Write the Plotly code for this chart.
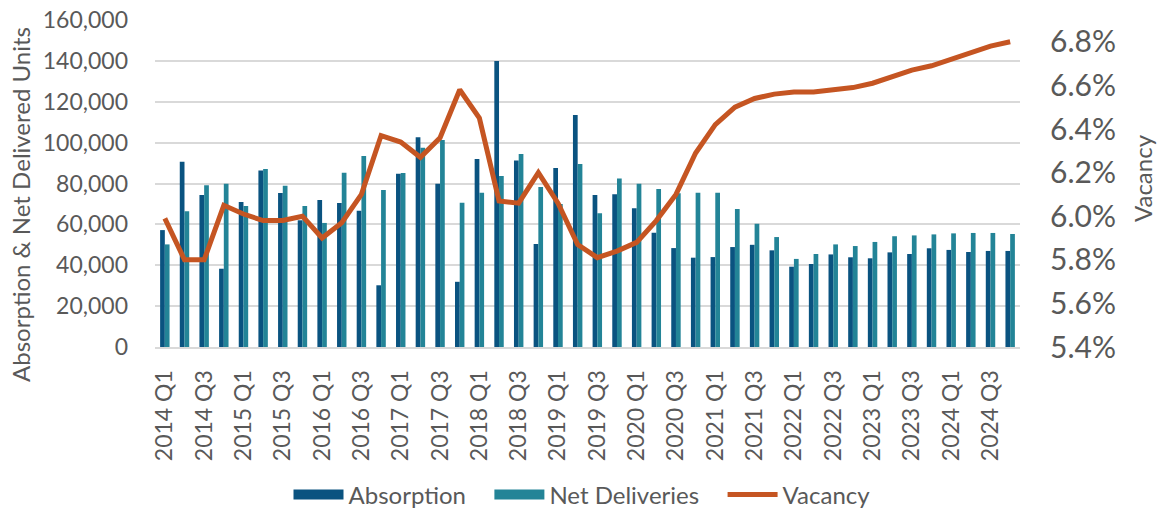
import plotly.graph_objects as go

quarters = [f"{y} Q{q}" for y in range(2014, 2025) for q in range(1, 5)]

absorption = [57200, 90700, 74400, 38300, 70900, 86400, 75300, 62000,
              71900, 70400, 66700, 30200, 84800, 102600, 79900, 31900,
              92000, 139900, 91300, 50400, 87600, 113500, 74400, 74700,
              67900, 55900, 48400, 43700, 44000, 48900, 50000, 47300,
              39300, 40600, 45300, 43900, 43400, 46300, 45500, 48300,
              47500, 46500, 47000, 47000]

net_deliveries = [50200, 66400, 79100, 79900, 69000, 87100, 78900, 69000,
                  60700, 85300, 93400, 76800, 85100, 97500, 101300, 70600,
                  75500, 83700, 94400, 78300, 70000, 89500, 65400, 82500,
                  79900, 77300, 75200, 75500, 75500, 67500, 60300, 53800,
                  43100, 45500, 50200, 49400, 51400, 54200, 54600, 55100,
                  55600, 55800, 55800, 55300]

vacancy = [5.99, 5.80, 5.80, 6.05, 6.01, 5.98, 5.98, 6.00,
           5.90, 5.97, 6.10, 6.37, 6.34, 6.27, 6.36, 6.58,
           6.45, 6.07, 6.06, 6.20, 6.06, 5.87, 5.81, 5.84,
           5.88, 5.98, 6.10, 6.29, 6.42, 6.50, 6.54, 6.56,
           6.57, 6.57, 6.58, 6.59, 6.61, 6.64, 6.67, 6.69,
           6.72, 6.75, 6.78, 6.80]

left_ticks = list(range(0, 160001, 20000))
right_ticks = [5.4, 5.6, 5.8, 6.0, 6.2, 6.4, 6.6, 6.8]

FONT = "Lato, 'Source Sans Pro', 'Noto Sans', sans-serif"
GRAY = "#595959"
C_ABS = "#0A5380"
C_NET = "#238497"
C_VAC = "#C55522"
PAD = "\u00a0\u00a0\u00a0"

fig = go.Figure()
fig.add_trace(go.Bar(x=quarters, y=absorption, name="Absorption", showlegend=False,
                     marker=dict(color=C_ABS, line=dict(width=0))))
fig.add_trace(go.Bar(x=quarters, y=net_deliveries, name="Net Deliveries", showlegend=False,
                     marker=dict(color=C_NET, line=dict(width=0))))
fig.add_trace(go.Scatter(x=quarters, y=vacancy, name="Vacancy", yaxis="y2", showlegend=False,
                         mode="lines", line=dict(color=C_VAC, width=5)))

# legend entries (wide rectangles for the bar series, as in the original)
fig.add_trace(go.Scatter(x=[None], y=[None], name="Absorption" + PAD, mode="lines",
                         line=dict(color=C_ABS, width=16)))
fig.add_trace(go.Scatter(x=[None], y=[None], name="Net Deliveries" + PAD, mode="lines",
                         line=dict(color=C_NET, width=16)))
fig.add_trace(go.Scatter(x=[None], y=[None], name="Vacancy", mode="lines",
                         line=dict(color=C_VAC, width=5)))

fig.update_layout(
    width=1164, height=509,
    margin=dict(l=155, r=144, t=20, b=162),
    paper_bgcolor="white", plot_bgcolor="white",
    font=dict(family=FONT, color=GRAY, size=22),
    barmode="group", bargap=0.52, bargroupgap=0,
    showlegend=True,
    legend=dict(orientation="h", x=0.5, xanchor="center", xref="container",
                y=14 / 509, yanchor="middle", yref="container",
                font=dict(size=24, color=GRAY), itemwidth=50, traceorder="normal",
                tracegroupgap=0),
    xaxis=dict(
        type="category", automargin=False,
        tickvals=quarters[::2], ticktext=quarters[::2],
        tickangle=-90, tickfont=dict(size=23, color=GRAY),
        showgrid=False, showline=True, linecolor="#D9D9D9", linewidth=2,
        ticks="", ticklabelstandoff=12,
    ),
    yaxis=dict(
        range=[0, 160000], tickvals=left_ticks, tickformat=",", automargin=False,
        showgrid=True, gridcolor="#D9D9D9", gridwidth=1.5,
        zeroline=False, showline=False, ticks="",
        tickfont=dict(size=23, color=GRAY), ticklabelstandoff=26,
    ),
    yaxis2=dict(
        range=[5.4, 6.9], tickvals=right_ticks, ticktext=[f"{v:.1f}%" for v in right_ticks],
        overlaying="y", side="right", showgrid=False, zeroline=False, showline=False,
        automargin=False,
        ticks="", tickfont=dict(size=30, color=GRAY), ticklabelstandoff=29,
    ),
    annotations=[
        dict(text="Absorption & Net Delivered Units", xref="paper", yref="paper",
             x=(20 - 155) / 865, y=(347 - 205) / 327, xanchor="center", yanchor="middle",
             textangle=-90, showarrow=False, font=dict(size=24, color=GRAY)),
        dict(text="Vacancy", xref="paper", yref="paper",
             x=(1143 - 155) / 865, y=(347 - 178) / 327, xanchor="center", yanchor="middle",
             textangle=-90, showarrow=False, font=dict(size=24, color=GRAY)),
    ],
)

fig.write_html("out.html", config={"displayModeBar": False},
               post_script="document.body.style.margin='0';document.body.style.padding='0';")
